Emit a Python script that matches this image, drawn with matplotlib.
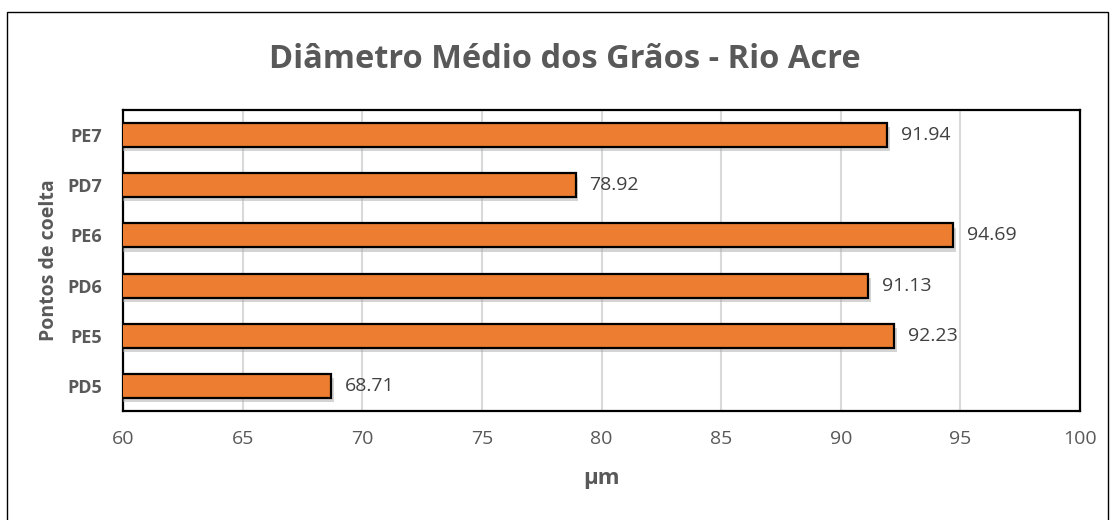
import matplotlib
matplotlib.use("Agg")
import matplotlib.pyplot as plt
from matplotlib import patheffects
from matplotlib.patches import Rectangle

plt.rcParams["font.family"] = ["Open Sans", "DejaVu Sans"]

points = ["PD5", "PE5", "PD6", "PE6", "PD7", "PE7"]
diameters = [68.71, 92.23, 91.13, 94.69, 78.92, 91.94]
x_ticks = [60, 65, 70, 75, 80, 85, 90, 95, 100]

text_gray = "#595959"

fig = plt.figure(figsize=(11.1, 5.2), dpi=100)
fig.patches.append(Rectangle((7 / 1110, -0.1), 1101 / 1110, 1.1 - 12 / 520,
                             transform=fig.transFigure, fill=False,
                             edgecolor="black", linewidth=1.0))
ax = fig.add_axes([123 / 1110, 1 - 411 / 520, 957 / 1110, 301 / 520])

bars = ax.barh(range(len(points)), diameters, height=0.48, left=0,
               color="#ED7D31", edgecolor="black", linewidth=1.6, zorder=3)
for bar in bars:
    bar.set_path_effects([patheffects.SimplePatchShadow(offset=(2, -3), shadow_rgbFace="#aaaaaa", alpha=0.5),
                          patheffects.Normal()])

for i, v in enumerate(diameters):
    ax.annotate(f"{v:.2f}", (v, i), xytext=(10, 0), textcoords="offset points",
                va="center", ha="left", fontsize=14, color="#404040")

ax.set_xlim(60, 100)
ax.set_ylim(-0.5, len(points) - 0.5)
ax.set_xticks(x_ticks)
ax.set_yticks(range(len(points)))
ax.set_yticklabels(points, fontweight="bold", fontsize=13)
ax.tick_params(axis="x", length=0, labelsize=14, labelcolor=text_gray, pad=14)
ax.tick_params(axis="y", length=0, labelcolor=text_gray, pad=15)
ax.grid(axis="x", color="#d9d9d9", linewidth=1.5, zorder=0)
ax.set_axisbelow(True)
for spine in ax.spines.values():
    spine.set_linewidth(1.6)
    spine.set_color("black")

ax.set_xlabel("µm", fontsize=16, fontweight="bold", color=text_gray, labelpad=14)
ax.set_ylabel("Pontos de coelta", fontsize=14, fontweight="bold", color=text_gray, labelpad=6)
fig.text(565 / 1110, 1 - 60 / 520, "Diâmetro Médio dos Grãos - Rio Acre", ha="center", va="center",
         fontsize=23.5, fontweight="bold", color=text_gray)

fig.savefig("out.png", dpi=100)
